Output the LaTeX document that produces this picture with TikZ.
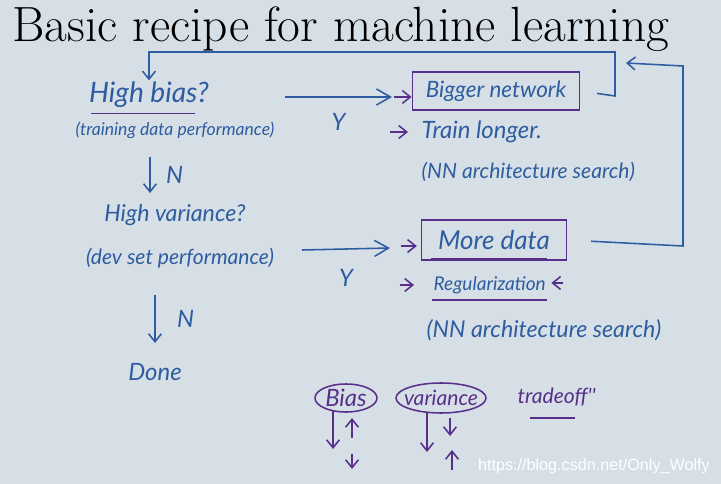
\documentclass[tikz,border=0pt]{standalone}
\usepackage{fontspec}
\setsansfont{Liberation Sans}
\newfontfamily\handfont{Lato}
\usetikzlibrary{shapes.geometric,arrows.meta}
\definecolor{board}{RGB}{214,223,230}
\definecolor{inkblue}{RGB}{46,92,160}
\definecolor{inkpurple}{RGB}{88,48,140}
\newcommand{\handsize}[1]{\handfont\itshape\fontsize{#1}{#1}\selectfont}

\begin{document}
\begin{tikzpicture}[x=0.025cm,y=-0.025cm,>={Straight Barb[length=2mm,width=3.2mm]},
	ink/.style={draw=inkblue, line width=1.1pt},
	pen/.style={draw=inkpurple, line width=1.1pt},
	bigtip/.style={-{Straight Barb[length=3.5mm,width=4mm]}},
	hand/.style={text=inkblue, inner sep=1pt, font=\handsize{15}},
	boxed/.style={pen, draw, hand, inner sep=0pt},
	blob/.style={hand, text=inkpurple}]
	%board
	\fill[board] (0,0) rectangle (721,484);
	\useasboundingbox (0,0) rectangle (721,484);
	\node[anchor=base west, inner sep=0pt, font=\fontsize{35.2}{38}\selectfont] (title) at (12,42) {Basic recipe for machine learning};

	%left column: the two questions
	\node[hand, font=\handsize{20}] (hb) at (149,95) {High bias?};
	\node[hand, font=\handsize{12.5}] (tdp) at (175,130) {(training data performance)};
	\draw[pen] ([xshift=0.1cm, yshift=-0.1cm]hb.south west) -- ([xshift=-0.4cm, yshift=-0.1cm]hb.south east);
	\node[hand, font=\handsize{16.5}] (hv) at (175,215) {High variance?};
	\node[hand, font=\handsize{15}] (dsp) at (180,258) {(dev set performance)};
	\node[hand, font=\handsize{17}] (done) at (155,372) {Done};
	\draw[ink,->] (150,157) -- node[hand, font=\handsize{17}, right=0.35cm] (n1) {N} (150,193);
	\draw[ink,->] (155,295) -- node[hand, font=\handsize{17}, right=0.5cm] (n2) {N} (155,343);

	%right column: the fixes
	\node[boxed, font=\handsize{16}, minimum width=4.18cm, minimum height=0.95cm] (big) at (496,91) {Bigger network};
	\node[hand, font=\handsize{17}, anchor=west] (train) at (420,132) {Train longer.};
	\node[hand, font=\handsize{15}, anchor=west] (nas1) at (420,172) {(NN architecture search)};
	\node[boxed, font=\handsize{18.5}, minimum width=3.62cm, minimum height=1cm] (more) at (494,240) {More data};
	\draw[pen] ([xshift=0.25cm, yshift=0.05cm]more.south west) -- ([xshift=-0.5cm, yshift=0.05cm]more.south east);
	\node[hand, font=\handsize{13.5}, anchor=west] (reg) at (432,285) {Regularization};
	\node[hand, font=\handsize{16.5}, anchor=west] (nas2) at (425,330) {(NN architecture search)};
	\draw[pen] ([yshift=-0.12cm]reg.south west) -- ([yshift=-0.12cm]reg.south east);

	%Y branches
	\coordinate (y1) at (285,97);
	\coordinate (y2) at (302,250);
	\draw[ink,bigtip] (y1) -- node[hand, font=\handsize{17}, below=0.35cm] (ya) {Y} (392,97);
	\draw[ink,bigtip] (y2) -- node[hand, font=\handsize{17}, below=0.45cm] (yb) {Y} (390,248);
	\draw[pen,->] ([xshift=-0.45cm, yshift=-0.15cm]big.west) -- ([yshift=-0.15cm]big.west);
	\draw[pen,->] ([xshift=-0.75cm]train.west) -- ([xshift=-0.3cm]train.west);
	\draw[pen,->] ([xshift=-0.5cm, yshift=-0.15cm]more.west) -- ([xshift=-0.1cm, yshift=-0.15cm]more.west);
	\draw[pen,->] ([xshift=-0.8cm]reg.west) -- ([xshift=-0.45cm]reg.west);
	\draw[pen,->] ([xshift=0.4cm, yshift=0.05cm]reg.east) -- ([xshift=0.1cm, yshift=0.05cm]reg.east);

	%loops back to the top
	\coordinate (back) at (626,63);
	\draw[ink,->, shorten <=0.42cm] (big.east) -- (615,96) -- (615,52) -| (hb.north);
	\draw[ink,->, shorten <=0.6cm] (more.east) -- (683,246) -- (683,66) -- (back);

	%bias / variance tradeoff
	\node[blob, font=\handsize{17}] (bias) at (346,398) {Bias};
	\draw[pen] (bias.center) ellipse [x radius=31, y radius=14];
	\node[blob] (var) at (441,398) {variance};
	\draw[pen] (var.center) ellipse [x radius=45, y radius=15];
	\node[hand, text=inkpurple, anchor=west] (trade) at (516,397) {tradeoff''};
	\draw[pen] (530,418) -- (575,418);
	\draw[pen,->] ([shift={(-13,13)}]bias.center) -- ++(0,38);
	\draw[pen,<-] ([shift={(6,20)}]bias.center) -- ++(0,20);
	\draw[pen,->] ([shift={(6,56)}]bias.center) -- ++(0,15);
	\draw[pen,->] ([shift={(-14,14)}]var.center) -- ++(0,40);
	\draw[pen,->] ([shift={(9,20)}]var.center) -- ++(0,18);
	\draw[pen,<-] ([shift={(11,52)}]var.center) -- ++(0,20);

	%watermark
	\node[anchor=east, text=white, font=\sffamily\fontsize{11.5}{13}\selectfont, inner sep=0pt] (mark) at (710,466) {https://blog.csdn.net/Only\_Wolfy};
\end{tikzpicture}
\end{document}
